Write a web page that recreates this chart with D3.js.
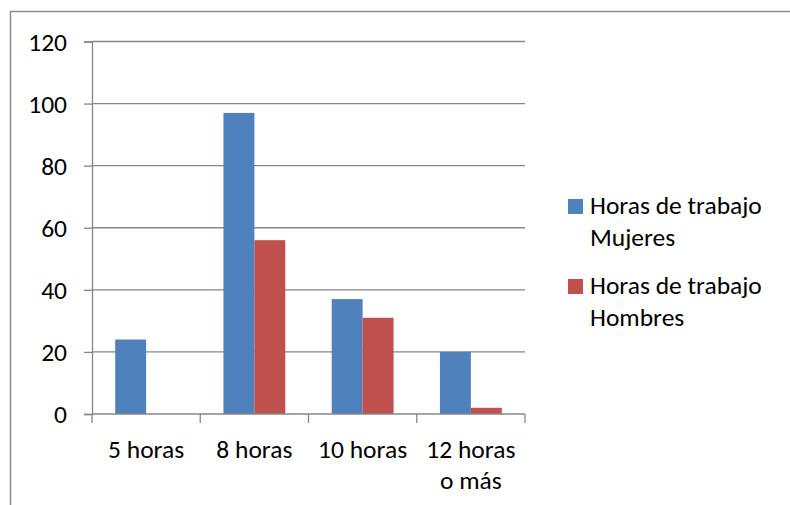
<!DOCTYPE html>
<html><head><meta charset="utf-8">
<script src="https://cdn.jsdelivr.net/npm/d3@7"></script>
<style>body{margin:0;background:#fff}svg text{font-family:Carlito,Lato,sans-serif;fill:#000}</style>
</head><body><svg id="c" width="790" height="505"></svg>
<script>
const categories = [["5 horas"], ["8 horas"], ["10 horas"], ["12 horas", "o más"]];
const seriesNames = [["Horas de trabajo", "Mujeres"], ["Horas de trabajo", "Hombres"]];
const mujeres = [24, 97, 37, 20];
const hombres = [0, 56, 31, 2];
const yTicks = [0, 20, 40, 60, 80, 100, 120];
const colors = ["#4F81BD", "#C0504D"];

const svg = d3.select("#c");
const fs = 25.5;
svg.append("rect").attr("x",10.5).attr("y",11.5).attr("width",800).attr("height",600)
  .attr("fill","none").attr("stroke","#8c8c8c").attr("stroke-width",1.5);

const x0 = 92, x1 = 525, yTop = 41.5, yBot = 414;
const x = d3.scaleBand().domain(d3.range(categories.length)).range([x0, x1]);
const y = d3.scaleLinear().domain([0, 120]).range([yBot, yTop]);
const barW = x.bandwidth() / 3.5;

const g = svg.append("g");
g.selectAll("line.grid").data(yTicks.filter(d=>d>0)).join("line")
  .attr("x1", x0).attr("x2", x1).attr("y1", d=>y(d)).attr("y2", d=>y(d))
  .attr("stroke","#868686").attr("stroke-width",1.3);

const series = [mujeres, hombres];
series.forEach((vals, si) => {
  g.selectAll("rect.s"+si).data(vals).join("rect")
    .attr("x", (d,i)=> x(i) + barW*0.75 + si*barW)
    .attr("y", d=>y(d)).attr("width", barW).attr("height", d=>yBot - y(d))
    .attr("fill", colors[si]);
});

const yAxis = d3.axisLeft(y).tickValues(yTicks).tickSize(8).tickPadding(17);
const ya = svg.append("g").attr("transform",`translate(${x0},0)`).call(yAxis);
ya.select(".domain").attr("stroke","#868686").attr("stroke-width",1.3);
ya.selectAll(".tick line").attr("stroke","#868686").attr("stroke-width",1.3);
ya.selectAll(".tick text").attr("font-size",fs).attr("dy","0.35em").style("font-family","Carlito,Lato,sans-serif");

const xa = svg.append("g");
xa.append("line").attr("x1",x0).attr("x2",x1).attr("y1",yBot).attr("y2",yBot)
  .attr("stroke","#868686").attr("stroke-width",1.3);
const bounds = d3.range(categories.length+1).map(i=> i<categories.length ? x(i) : x1);
xa.selectAll("line.t").data(bounds).join("line")
  .attr("x1",d=>d).attr("x2",d=>d).attr("y1",yBot).attr("y2",yBot+9)
  .attr("stroke","#868686").attr("stroke-width",1.3);
categories.forEach((lines,i)=>{
  const t = xa.append("text").attr("text-anchor","middle").attr("font-size",fs)
    .attr("x", x(i)+x.bandwidth()/2).attr("y", 457.5);
  lines.forEach((l,j)=> t.append("tspan").attr("x", x(i)+x.bandwidth()/2).attr("dy", j?31:0).text(l));
});

const leg = svg.append("g");
seriesNames.forEach((lines, si)=>{
  const by = 199 + si*80;
  leg.append("rect").attr("x",568).attr("y",by).attr("width",15).attr("height",15).attr("fill",colors[si]);
  const t = leg.append("text").attr("font-size",fs).attr("x",590).attr("y",by+15);
  lines.forEach((l,j)=> t.append("tspan").attr("x",590).attr("dy", j?32:0).text(l));
});
</script></body></html>
